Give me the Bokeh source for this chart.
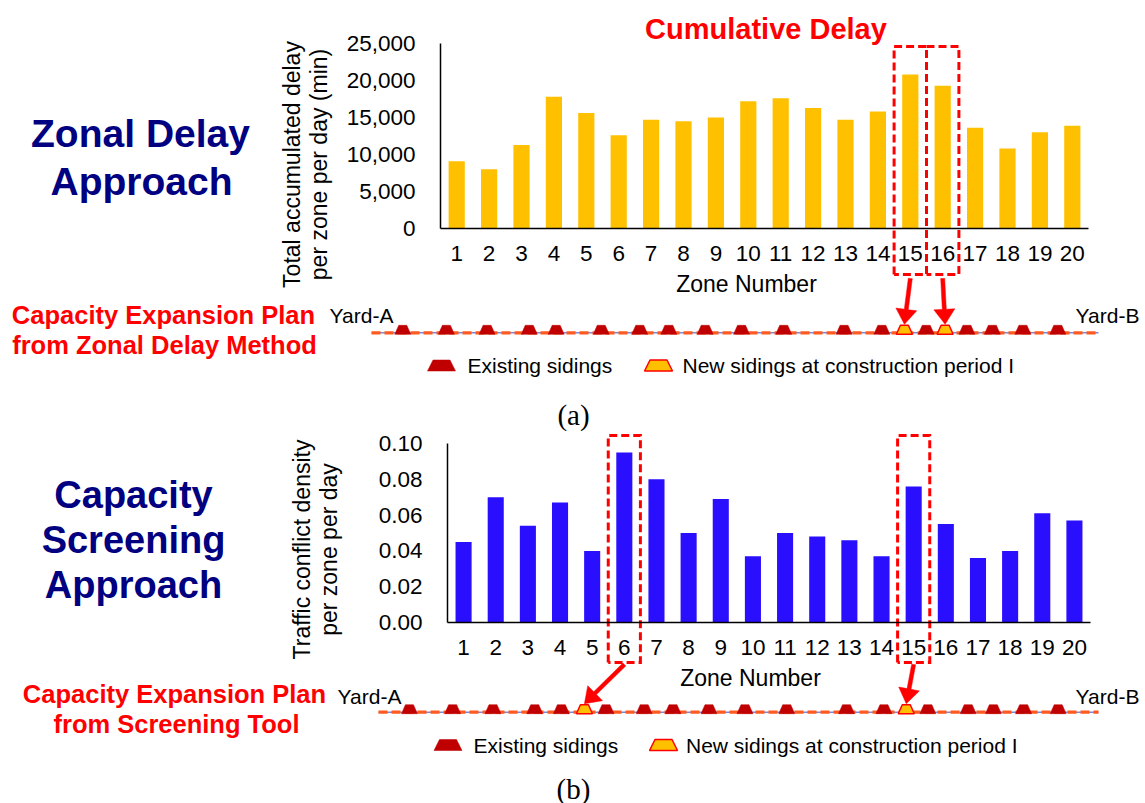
import math
from bokeh.plotting import figure
from bokeh.models import (Range1d, FixedTicker, NumeralTickFormatter, Label, LinearAxis)
from bokeh.embed import file_html
from bokeh.resources import INLINE

# ---------------- data ----------------
zones = list(range(1, 21))
total_delay_min = [9100, 8000, 11300, 17800, 15600, 12600, 14700, 14500, 15000, 17200,
                   17600, 16300, 14700, 15800, 20800, 19300, 13600, 10800, 13000, 13900]
conflict_density = [0.045, 0.070, 0.054, 0.067, 0.040, 0.095, 0.080, 0.050, 0.069, 0.037,
                    0.050, 0.048, 0.046, 0.037, 0.076, 0.055, 0.036, 0.040, 0.061, 0.057]
delay_ticks = [0, 5000, 10000, 15000, 20000, 25000]
density_ticks = [0.00, 0.02, 0.04, 0.06, 0.08, 0.10]
selected_zones_delay = [15, 16]
selected_zones_screening = [6, 15]
# siding locations, % of the corridor from Yard-A to Yard-B
existing_sidings_pct = [4.3, 10.3, 15.9, 21.7, 25.4, 31.6, 36.9, 40.9, 45.9, 50.9,
                        56.7, 65.0, 70.2, 76.3, 81.9, 85.4, 89.6, 94.4]
new_sidings_delay_pct = [73.3, 78.9]
new_sidings_screening_pct = [28.6, 73.3]

# ---------------- styling / layout (page pixels) ----------------
W, H = 1145, 803
X0, Y0 = 0, 0          # page position of the figure's top-left corner
SANS = "Liberation Sans"
SERIF = "Liberation Serif"
RED = "#ff0000"
NAVY = "#000080"
DARKRED = "#c00000"
GOLD = "#ffc000"
BLUE = "#2a0fff"
RAIL_BLUE = "#7f86d6"
RAIL_ORANGE = "#ff5a1f"

panels = [
    dict(name="A", frame=(440, 1088, 43, 228), values=total_delay_min, color=GOLD,
         ymax=25000, ticks=delay_ticks, fmt="0,0",
         title=("Cumulative Delay", 765.5, 28.3),
         left_lines=[("Zonal Delay", 140, 133.0), ("Approach", 141, 180.5)], left_size="39px",
         ytitle=[("Total accumulated delay", 291.7), ("per zone per day (min)", 318.3)], ytitle_cy=164,
         xtitle=(746, 283.5),
         boxes=selected_zones_delay, box_y=(46, 274), arrow_y0=278,
         track=(371, 1098, 332.3), new_sidings=new_sidings_delay_pct,
         red_lines=[("Capacity Expansion Plan", 163, 314.0), ("from Zonal Delay Method", 164, 344.0)],
         yards=[("Yard-A", 361, 315.0), ("Yard-B", 1107, 315.0)],
         legend=(365, 441, 467, 658, 682),
         caption=("(a)", 573, 414)),
    dict(name="B", frame=(447, 1090, 443, 622), values=conflict_density, color=BLUE,
         ymax=0.1, ticks=density_ticks, fmt="0.00",
         title=None,
         left_lines=[("Capacity", 133, 494.7), ("Screening", 133, 539.7), ("Approach", 133, 584.7)],
         left_size="38px",
         ytitle=[("Traffic conflict density", 301.7), ("per zone per day", 328.3)], ytitle_cy=549,
         xtitle=(750, 677.5),
         boxes=selected_zones_screening, box_y=(435, 662), arrow_y0=664,
         track=(378, 1098, 711.7), new_sidings=new_sidings_screening_pct,
         red_lines=[("Capacity Expansion Plan", 174, 693.5), ("from Screening Tool", 176, 723.0)],
         yards=[("Yard-A", 369, 695.5), ("Yard-B", 1107, 695.5)],
         legend=(744.5, 447.5, 473, 663, 685.5),
         caption=("(b)", 573, 788)),
]

# one canvas whose frame is the whole figure; data coords of default ranges = page pixels
p = figure(width=W, height=H, x_range=Range1d(X0, X0 + W), y_range=Range1d(Y0 + H, Y0),
           x_axis_type=None, y_axis_type=None,
           min_border_left=0, min_border_right=0, min_border_top=0, min_border_bottom=0,
           output_backend="svg", toolbar_location=None)
p.outline_line_color = None
p.background_fill_color = "white"
p.border_fill_color = "white"


def rng(pa, va, pb, vb, pstart, pend):
    k = (vb - va) / (pb - pa)
    return Range1d(start=va + (pstart - pa) * k, end=va + (pend - pa) * k)


def text(s, x, y, size, color="black", style="normal", font=SANS,
         align="center", baseline="middle", angle=0.0):
    p.add_layout(Label(x=x, y=y, text=s, text_font=font, text_font_size=size,
                       text_font_style=style, text_color=color, text_align=align,
                       text_baseline=baseline, angle=angle))


def trapezoid(cx, base_y, wb, wt, h):
    return ([cx - wb / 2, cx + wb / 2, cx + wt / 2, cx - wt / 2],
            [base_y, base_y, base_y - h, base_y - h])


def arrow_poly(x0, y0, x1, y1, sw=4.0, hw=21.0, hl=15.0):
    dx, dy = x1 - x0, y1 - y0
    L = math.hypot(dx, dy)
    ux, uy = dx / L, dy / L
    nx, ny = -uy, ux
    bx, by = x1 - ux * hl, y1 - uy * hl
    pts = [(x0 + nx * sw / 2, y0 + ny * sw / 2), (bx + nx * sw / 2, by + ny * sw / 2),
           (bx + nx * hw / 2, by + ny * hw / 2), (x1, y1),
           (bx - nx * hw / 2, by - ny * hw / 2), (bx - nx * sw / 2, by - ny * sw / 2),
           (x0 - nx * sw / 2, y0 - ny * sw / 2)]
    return [a for a, b in pts], [b for a, b in pts]


x_ranges, y_ranges = {}, {}
for cfg in panels:
    fx0, fx1, fyt, fyb = cfg["frame"]
    xr, yr = "z" + cfg["name"], "v" + cfg["name"]
    x_ranges[xr] = rng(fx0, 0.5, fx1, 20.5, X0, X0 + W)
    y_ranges[yr] = rng(fyb, 0.0, fyt, cfg["ymax"], Y0 + H, Y0)
p.extra_x_ranges = x_ranges
p.extra_y_ranges = y_ranges

for cfg in panels:
    fx0, fx1, fyt, fyb = cfg["frame"]
    ymax = cfg["ymax"]
    xr, yr = "z" + cfg["name"], "v" + cfg["name"]

    def zx(z):
        return fx0 + (z - 0.5) / 20.0 * (fx1 - fx0)

    def vy(py):
        return ymax * (fyb - py) / (fyb - fyt)

    # bars
    p.vbar(x=zones, top=cfg["values"], bottom=0, width=0.5, fill_color=cfg["color"],
           line_color=None, x_range_name=xr, y_range_name=yr)

    # axes
    xa = LinearAxis(x_range_name=xr, y_range_name=yr, fixed_location=0, bounds=(0.5, 20.5),
                    ticker=FixedTicker(ticks=zones))
    ya = LinearAxis(x_range_name=xr, y_range_name=yr, fixed_location=0.5, bounds=(0, ymax),
                    ticker=FixedTicker(ticks=cfg["ticks"]),
                    formatter=NumeralTickFormatter(format=cfg["fmt"]))
    for ax in (xa, ya):
        ax.axis_line_color = "black"
        ax.axis_line_width = 1.5
        ax.major_tick_line_color = None
        ax.minor_tick_line_color = None
        ax.major_tick_in = 0
        ax.major_tick_out = 0
        ax.major_label_text_font = SANS
        ax.major_label_text_font_size = "22.5px"
        ax.major_label_text_color = "black"
    xa.major_label_standoff = 17
    ya.major_label_standoff = 25
    p.add_layout(xa, "below")
    p.add_layout(ya, "left")

    # dashed selection boxes (zone units); a shared edge is drawn only once
    by0, by1 = cfg["box_y"]
    sel = cfg["boxes"]
    tv, bv = vy(by0), vy(by1)
    bxs, bys = [], []
    for z in sel:
        l, r = z - 0.5, z + 0.5
        if (z - 1) in sel:
            bxs.append([l, r, r, l])
            bys.append([tv, tv, bv, bv])
        else:
            bxs.append([l, l, r, r, l])
            bys.append([bv, tv, tv, bv, bv])
    p.multi_line(xs=bxs, ys=bys, line_color=RED, line_width=3, line_dash="8 4",
                 line_join="miter", x_range_name=xr, y_range_name=yr)

    # track
    tx0, tx1, ty = cfg["track"]

    def track_x(pct):
        return tx0 + pct / 100.0 * (tx1 - tx0)

    p.line(x=[tx0, tx1], y=[ty, ty], line_color=RAIL_BLUE, line_width=1.5)
    p.line(x=[tx0, tx1], y=[ty, ty], line_color=RAIL_ORANGE, line_width=3.2, line_dash="9 4")

    base = ty + 1.5
    sh = 9.0
    ex = [trapezoid(track_x(v), base, 16, 8, sh) for v in existing_sidings_pct]
    p.patches(xs=[a for a, b in ex], ys=[b for a, b in ex], fill_color=DARKRED,
              line_color=DARKRED, line_width=0.5)
    nw = [trapezoid(track_x(v), base, 16, 8, sh) for v in cfg["new_sidings"]]
    p.patches(xs=[a for a, b in nw], ys=[b for a, b in nw], fill_color=GOLD,
              line_color=RED, line_width=1.5)

    # arrows from boxes to new sidings
    arrs = [arrow_poly(zx(z), cfg["arrow_y0"], track_x(v), base - sh - 1.0)
            for z, v in zip(sel, cfg["new_sidings"])]
    p.patches(xs=[a for a, b in arrs], ys=[b for a, b in arrs], fill_color=RED,
              line_color=RED, line_width=0.5)

    # legend
    ly, lex, letx, lnx, lntx = cfg["legend"]
    m1 = trapezoid(lex, ly + 5.5, 28, 17, 11)
    m2 = trapezoid(lnx, ly + 5.5, 28, 17, 11)
    p.patch(x=m1[0], y=m1[1], fill_color=DARKRED, line_color=DARKRED, line_width=0.5)
    p.patch(x=m2[0], y=m2[1], fill_color=GOLD, line_color=RED, line_width=1.5)
    text("Existing sidings", letx, ly, "21px", align="left")
    text("New sidings at construction period I", lntx, ly, "21px", align="left")

    # texts
    if cfg["title"]:
        s, tx, tyy = cfg["title"]
        text(s, tx, tyy, "29px", color=RED, style="bold")
    for s, tx, tyy in cfg["left_lines"]:
        text(s, tx, tyy, cfg["left_size"], color=NAVY, style="bold")
    for s, tx in cfg["ytitle"]:
        text(s, tx, cfg["ytitle_cy"], "23px", angle=math.pi / 2)
    xs_, xy_ = cfg["xtitle"]
    text("Zone Number", xs_, xy_, "23px")
    for s, tx, tyy in cfg["red_lines"]:
        text(s, tx, tyy, "25.5px", color=RED, style="bold")
    for s, tx, tyy in cfg["yards"]:
        text(s, tx, tyy, "21px")
    s, tx, tyy = cfg["caption"]
    text(s, tx, tyy, "29px", font=SERIF)

open("out.html", "w").write(file_html(p, INLINE))
